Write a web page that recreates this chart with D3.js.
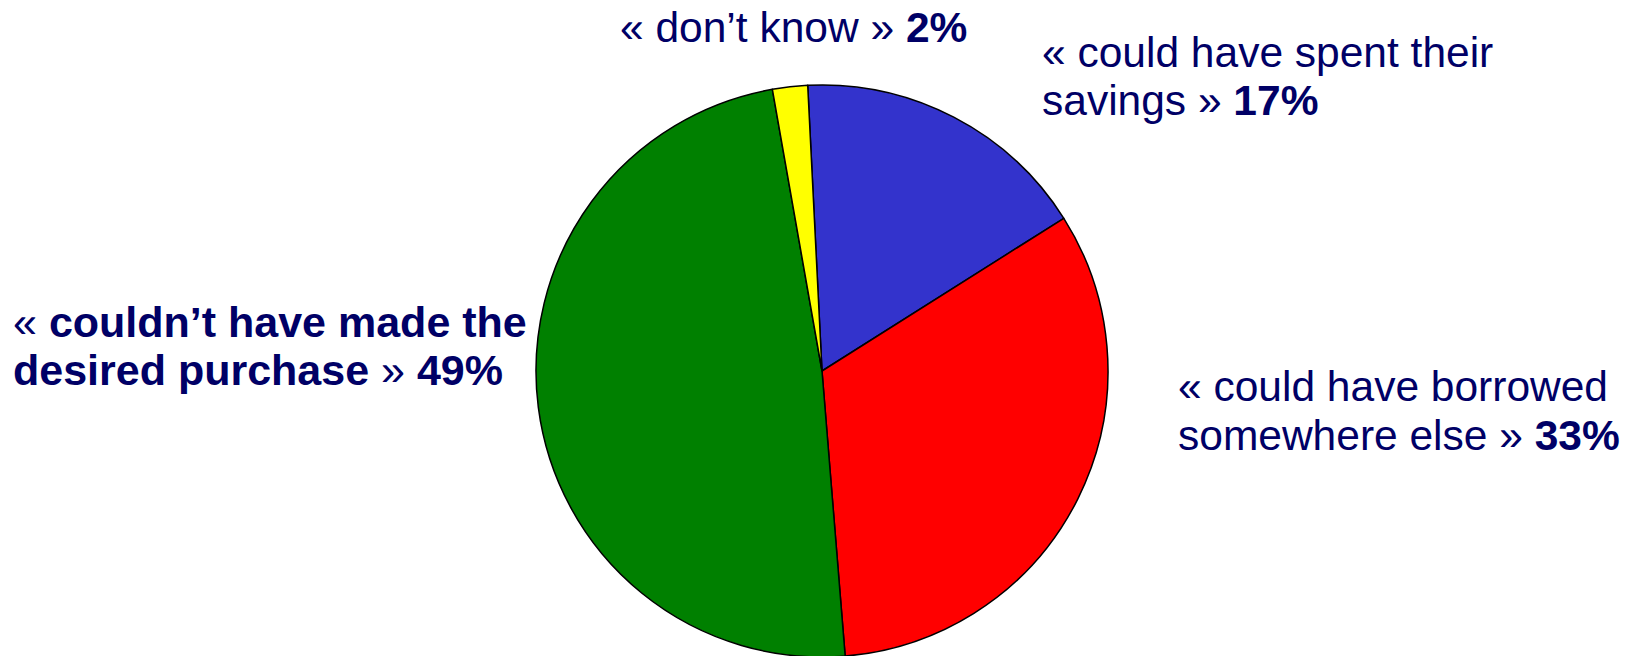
<!DOCTYPE html>
<html>
<head>
<meta charset="utf-8">
<script src="https://cdn.jsdelivr.net/npm/d3@7"></script>
<style>
  html, body { margin: 0; padding: 0; background: #ffffff; }
  svg { display: block; }
  text { font-family: "Liberation Sans", Arial, sans-serif; fill: #000066; }
</style>
</head>
<body>
<svg id="chart" width="1628" height="656"></svg>
<script>
// Survey answers: what respondents would have done without the loan
const categories = ["could have spent their savings", "could have borrowed somewhere else",
                    "couldn't have made the desired purchase", "don't know"];
const values = [17, 33, 49, 2];
const colors = ["#3333CC", "#FF0000", "#008000", "#FFFF00"];

// Label text, split into lines of [text, bold] runs
const labelLines = [
  [[["« could have spent their", false]], [["savings » ", false], ["17%", true]]],
  [[["« could have borrowed", false]], [["somewhere else » ", false], ["33%", true]]],
  [[["« ", false], ["couldn’t have made the", true]], [["desired purchase", true], [" » ", false], ["49%", true]]],
  [[["« don’t know » ", false], ["2%", true]]]
];

// Label placement (left x, first baseline y, line height, font size)
const labelPos = [[1042, 67, 48, 42.5], [1178, 401, 49, 42.5], [13, 337, 48, 43], [620, 42, 48, 42.5]];

const width = 1628, height = 656;
const cx = 822, cy = 371, radius = 286;
const startAngle = -0.05;

const svg = d3.select("#chart");

const pie = d3.pie().sort(null).value(d => d)
  .startAngle(startAngle).endAngle(startAngle + 2 * Math.PI);
const arc = d3.arc().innerRadius(0).outerRadius(radius);
const color = d3.scaleOrdinal().domain(categories).range(colors);

const g = svg.append("g").attr("transform", `translate(${cx},${cy})`);
g.selectAll("path")
  .data(pie(values))
  .join("path")
  .attr("d", arc)
  .attr("fill", (d, i) => color(categories[i]))
  .attr("stroke", "#000")
  .attr("stroke-width", 1.5)
  .attr("stroke-linejoin", "round");

const labels = svg.append("g");
labelLines.forEach((lines, i) => {
  const [x, y, lh, fs] = labelPos[i];
  const t = labels.append("text")
    .attr("x", x)
    .attr("y", y)
    .attr("font-size", fs);
  lines.forEach((runs, li) => {
    runs.forEach(([str, bold], ri) => {
      const ts = t.append("tspan")
        .attr("font-weight", bold ? "bold" : "normal")
        .style("white-space", "pre")
        .text(str);
      if (ri === 0) ts.attr("x", x).attr("dy", li === 0 ? 0 : lh);
    });
  });
});
</script>
</body>
</html>
